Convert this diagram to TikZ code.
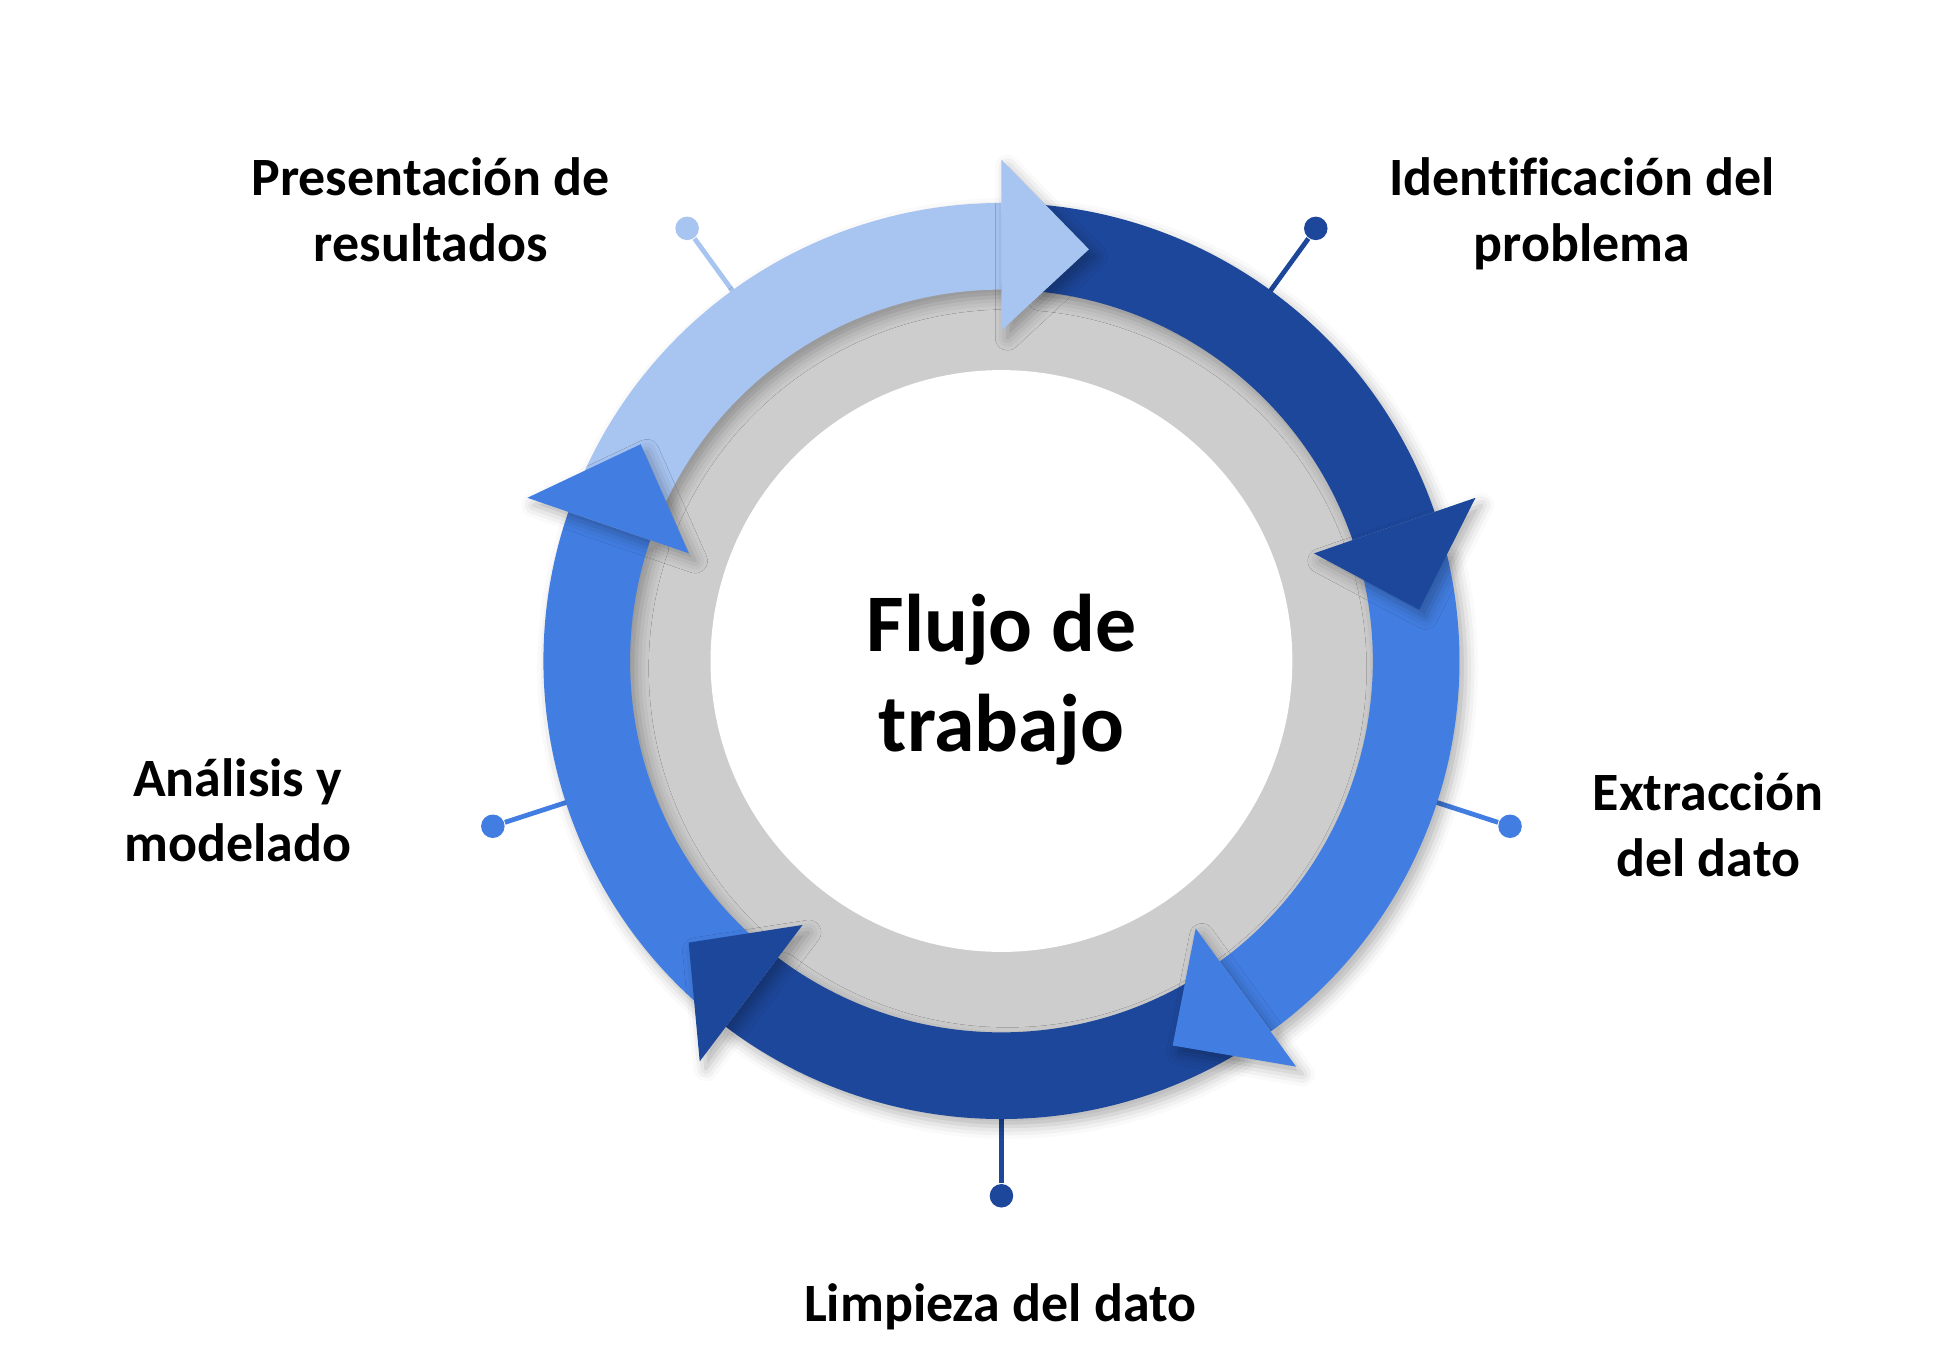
\documentclass[tikz,border=0pt]{standalone}
\usepackage{fontspec}
\setmainfont{Carlito}[Ligatures=NoCommon]
\usepackage{tikz}
\usetikzlibrary{shadows.blur}
\definecolor{cLight}{RGB}{168,196,241}
\definecolor{cDark}{RGB}{29,71,155}
\definecolor{cMid}{RGB}{66,126,226}
\definecolor{cRing}{RGB}{205,205,205}

\begin{document}
\begin{tikzpicture}[
  band/.style={blur shadow={shadow xshift=0.05cm,shadow yshift=-0.06cm,shadow blur radius=0.1cm,shadow opacity=30}},
  pin/.style={circle,inner sep=0pt,minimum size=0.19cm},
  lbl/.style={font=\fontsize{12.4}{15.1}\selectfont\bfseries,align=center}]
\useasboundingbox (-8.09,-5.73) rectangle (7.59,5.34);
\fill[cRing] (0,0) circle (3.05);
\fill[white] (0,0) circle (2.35);
% pins
\foreach \c/\a [count=\i] in {cLight/126,cDark/54,cMid/-18,cDark/-90,cMid/198} {
  \coordinate (r\i) at (\a:3.60);
  \node[pin,fill=\c] (p\i) at (\a:4.32) {};
  \draw[\c,line width=1.1pt] (r\i) -- (p\i);
}
% bands
\foreach \c/\a/\b in {cLight/157/90,cDark/85/19,cMid/14/-54,cDark/-59/-127,cMid/-132/-199}
  \fill[\c,band] (\a:3.70) arc[start angle=\a,end angle=\b,radius=3.70]
    -- (\b:3.00) arc[start angle=\b,end angle=\a,radius=3.00] -- cycle;
% heads
\foreach \c/\b/\t in {cLight/90/78,cDark/19/7,cMid/-54/-66,cDark/-127/-138,cMid/161/149}
  \fill[\c,band] (\b:4.05) -- (\t:3.40) -- (\b:2.67) -- cycle;
% labels
\node[font=\fontsize{18.8}{23}\selectfont\bfseries,align=center] (flujo) at (0,-0.15) {Flujo de\\trabajo};
\node[lbl] (pres) at (-4.61,3.645) {Presentación de\\resultados};
\node[lbl] (iden) at (4.69,3.615) {Identificación del\\problema};
\node[lbl] (extr) at (5.71,-1.325) {Extracción\\del dato};
\node[lbl] (limp) at (-0.01,-5.22) {Limpieza del dato};
\node[lbl] (anal) at (-6.17,-1.205) {Análisis y\\modelado};
\end{tikzpicture}
\end{document}
